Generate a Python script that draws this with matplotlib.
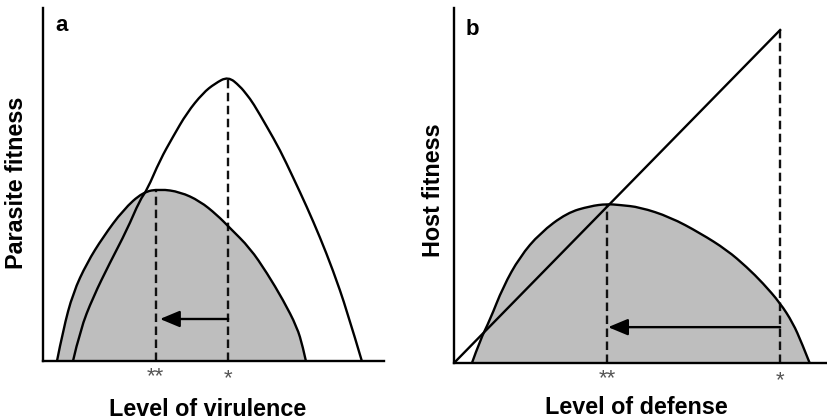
import matplotlib
matplotlib.use("Agg")
import matplotlib.pyplot as plt
from matplotlib.path import Path
from matplotlib.patches import PathPatch

# ---- Panel a: parasite fitness vs level of virulence (0-100 scale)
a_white_x = [8.8, 10.9, 14.7, 19.6, 24.6, 28.4, 30.5, 34.3, 38.1, 42.2, 46.9, 50.4, 54.3,
             57.8, 59.8, 61.6, 65.7, 69.5, 73.3, 77.4, 81.2, 85.0, 89.1, 93.5]
a_white_y = [0.0, 8.8, 18.1, 27.8, 37.1, 45.6, 48.4, 56.9, 63.5, 70.3, 75.9, 78.6, 80.6,
             77.8, 75.4, 73.1, 66.3, 59.8, 52.1, 43.6, 35.1, 25.8, 14.4, 0.0]
a_gray_x = [4.1, 5.9, 8.8, 12.9, 17.6, 23.5, 29.3, 34.3, 40.2, 46.0, 51.0, 54.8, 60.7, 65.7,
            70.4, 74.5, 76.2, 77.1]
a_gray_y = [0.0, 8.8, 19.3, 27.8, 35.1, 42.8, 47.9, 48.7, 47.9, 45.3, 41.4, 37.7, 32.0, 24.9,
            17.3, 9.6, 4.0, 0.0]
a_opt_new = 33.0      # "**"
a_opt_old = 54.3      # "*"
a_arrow_y = 11.9

# ---- Panel b: host fitness vs level of defense
b_line_x = [0.0, 87.2]
b_line_y = [0.0, 93.8]
b_gray_x = [4.8, 7.0, 9.6, 13.1, 17.6, 23.0, 30.2, 36.4, 40.9, 44.4, 49.7, 57.8, 65.8, 73.0,
            78.3, 82.6, 87.2, 90.6, 93.0, 95.1]
b_gray_y = [0.0, 6.5, 12.1, 21.4, 29.9, 36.6, 42.3, 44.2, 44.8, 44.5, 43.9, 41.1, 36.6, 31.8,
            27.0, 22.5, 16.9, 11.3, 5.6, 0.0]
b_opt_new = 40.9
b_opt_old = 87.2
b_arrow_y = 10.1

GRAY = "#bebebe"
LW = 1.7
DASH = (0, (3.6, 1.9))
FONT = ["Liberation Sans", "DejaVu Sans"]
plt.rcParams["font.family"] = FONT


def smooth_path(xs, ys, close=False):
    """Quadratic-Bezier path through the read points (points act as control points)."""
    pts = list(zip(xs, ys))
    verts = [pts[0]]
    codes = [Path.MOVETO]
    for i in range(1, len(pts) - 1):
        mx = (pts[i][0] + pts[i + 1][0]) / 2
        my = (pts[i][1] + pts[i + 1][1]) / 2
        if i == len(pts) - 2:
            mx, my = pts[i + 1]
        verts += [pts[i], (mx, my)]
        codes += [Path.CURVE3, Path.CURVE3]
    if close:
        verts += [pts[0], pts[0]]
        codes += [Path.LINETO, Path.CLOSEPOLY]
    return Path(verts, codes)


W, H = 828, 420
fig = plt.figure(figsize=(W / 100, H / 100), dpi=100)

ax_a = fig.add_axes([43 / W, (H - 361) / H, (384 - 43) / W, (361 - 8) / H])
ax_b = fig.add_axes([454 / W, (H - 363) / H, (828 - 454) / W, (363 - 8) / H])

for ax in (ax_a, ax_b):
    ax.set_xlim(0, 100)
    ax.set_ylim(0, 100)
    for s in ("top", "right"):
        ax.spines[s].set_visible(False)
    for s in ("left", "bottom"):
        ax.spines[s].set_linewidth(1.7)
    ax.set_xticks([])
    ax.set_yticks([])

ARROW = dict(arrowstyle="-|>,head_length=1.2,head_width=0.5",
             color="black", lw=LW, shrinkA=0, shrinkB=0)
STAR = dict(ha="center", va="baseline", fontsize=16, color="#555555",
            textcoords="offset points", annotation_clip=False)

# Panel a
ax_a.add_patch(PathPatch(smooth_path(a_gray_x, a_gray_y, close=True), fc=GRAY, lw=0, zorder=1))
ax_a.add_patch(PathPatch(smooth_path(a_gray_x, a_gray_y), fc="none", ec="black", lw=LW, zorder=3))
ax_a.add_patch(PathPatch(smooth_path(a_white_x, a_white_y), fc="none", ec="black", lw=LW, zorder=3))
ax_a.plot([a_opt_new, a_opt_new], [0, max(a_gray_y)], color="#111111", lw=LW, ls=DASH, zorder=2)
ax_a.plot([a_opt_old, a_opt_old], [0, max(a_white_y) - 1.0], color="#111111", lw=LW, ls=DASH, zorder=2)
ax_a.annotate("", xy=(a_opt_new + 1.3, a_arrow_y), xytext=(a_opt_old, a_arrow_y),
              arrowprops=ARROW, zorder=4)
ax_a.annotate("**", xy=(a_opt_new, 0), xytext=(0, -15.5), **STAR)
ax_a.annotate("*", xy=(a_opt_old, 0), xytext=(0, -17), **STAR)
ax_a.text(0.035, 0.95, "a", transform=ax_a.transAxes, fontsize=16, fontweight="bold",
          ha="left", va="center")

# Panel b
ax_b.add_patch(PathPatch(smooth_path(b_gray_x, b_gray_y, close=True), fc=GRAY, lw=0, zorder=1))
ax_b.add_patch(PathPatch(smooth_path(b_gray_x, b_gray_y), fc="none", ec="black", lw=LW, zorder=3))
ax_b.plot(b_line_x, b_line_y, color="black", lw=LW, zorder=3)
ax_b.plot([b_opt_new, b_opt_new], [0, max(b_gray_y)], color="#111111", lw=LW, ls=DASH, zorder=2)
ax_b.plot([b_opt_old, b_opt_old], [0, max(b_line_y)], color="#111111", lw=LW, ls=DASH, zorder=2)
ax_b.annotate("", xy=(b_opt_new + 0.3, b_arrow_y), xytext=(b_opt_old, b_arrow_y),
              arrowprops=ARROW, zorder=4)
ax_b.annotate("**", xy=(b_opt_new, 0), xytext=(0, -15.5), **STAR)
ax_b.annotate("*", xy=(b_opt_old, 0), xytext=(0, -17), **STAR)
ax_b.text(0.032, 0.94, "b", transform=ax_b.transAxes, fontsize=16, fontweight="bold",
          ha="left", va="center")

# Axis labels
fig.text(208 / W, 1 - 409 / H, "Level of virulence", ha="center", va="center",
         fontsize=16.8, fontweight="bold")
fig.text(17 / W, 1 - 183 / H, "Parasite fitness", ha="center", va="center",
         rotation=90, fontsize=16.8, fontweight="bold")
fig.text(636 / W, 1 - 407 / H, "Level of defense", ha="center", va="center",
         fontsize=16.8, fontweight="bold")
fig.text(434 / W, 1 - 190 / H, "Host fitness", ha="center", va="center",
         rotation=90, fontsize=16.8, fontweight="bold")

fig.savefig("out.png", dpi=100)
